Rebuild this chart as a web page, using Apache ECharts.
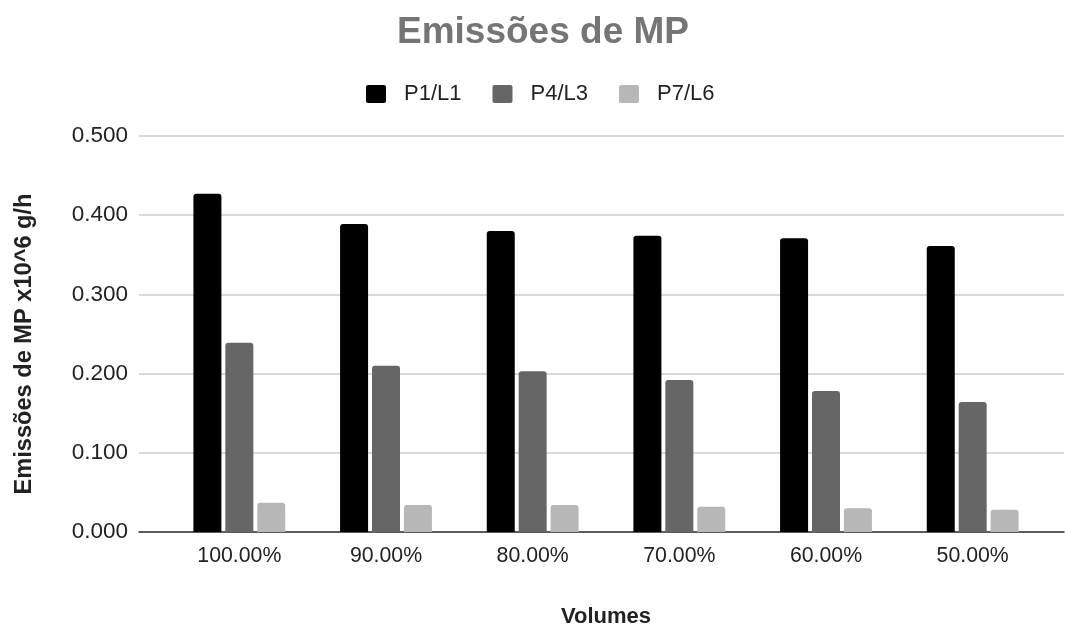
<!DOCTYPE html>
<html>
<head>
<meta charset="utf-8">
<script src="https://cdn.jsdelivr.net/npm/echarts@6/dist/echarts.min.js"></script>
<style>html,body{margin:0;padding:0;background:#fff}#c{width:1065px;height:625px}</style>
</head>
<body>
<div id="c"></div>
<script>
const categories = ['100.00%', '90.00%', '80.00%', '70.00%', '60.00%', '50.00%'];
const seriesNames = ['P1/L1', 'P4/L3', 'P7/L6'];
const p1l1 = [0.427, 0.389, 0.380, 0.374, 0.371, 0.361];
const p4l3 = [0.239, 0.210, 0.203, 0.192, 0.178, 0.164];
const p7l6 = [0.037, 0.034, 0.034, 0.032, 0.030, 0.028];
const colors = ['#000000', '#666666', '#b7b7b7'];
const yMin = 0, yMax = 0.5, yStep = 0.1;

const font = 'Liberation Sans, Arial, sans-serif';
const chart = echarts.init(document.getElementById('c'));
const values = [p1l1, p4l3, p7l6];
chart.setOption({
  animation: false,
  textStyle: { fontFamily: font },
  title: {
    text: 'Emissões de MP', left: 392, top: 9,
    textStyle: { fontSize: 37, fontWeight: 'bold', color: '#757575', fontFamily: font }
  },
  legend: {
    top: 78, left: 361, itemWidth: 20, itemHeight: 18, itemGap: 31,
    icon: 'path://M2,0 L18,0 Q20,0 20,2 L20,16 Q20,18 18,18 L2,18 Q0,18 0,16 L0,2 Q0,0 2,0 Z',
    textStyle: { fontSize: 22, color: '#222', padding: [0, 0, 0, 13], fontFamily: font },
    data: seriesNames
  },
  grid: [
    { left: 139, right: 1, top: 136, bottom: 93, outerBoundsMode: 'none' },
    { left: 166, right: 19, top: 136, bottom: 93, outerBoundsMode: 'none' }
  ],
  xAxis: [
    { gridIndex: 0, type: 'value', min: 0, max: 1, axisLabel: { show: false }, axisTick: { show: false },
      splitLine: { show: false }, axisLine: { lineStyle: { color: '#333', width: 1.5 } } },
    { gridIndex: 1, type: 'category', data: categories,
      axisLine: { show: false }, axisTick: { show: false },
      axisLabel: { fontSize: 21.3, color: '#222', margin: 14, fontFamily: font },
      name: 'Volumes', nameLocation: 'middle', nameGap: 74,
      nameTextStyle: { fontSize: 22, fontWeight: 'bold', color: '#222', fontFamily: font } }
  ],
  yAxis: [
    { gridIndex: 0, type: 'value', min: yMin, max: yMax, interval: yStep,
      axisLine: { show: false }, axisTick: { show: false },
      axisLabel: { fontSize: 22.5, color: '#222', margin: 11, formatter: v => v.toFixed(3), fontFamily: font },
      splitLine: { lineStyle: { color: '#cccccc', width: 1.5 } },
      name: 'Emissões de MP x10^6 g/h', nameLocation: 'middle', nameGap: 103, nameRotate: 90,
      nameTextStyle: { fontSize: 23.6, fontWeight: 'bold', color: '#222', padding: [0, 20, 0, 0], fontFamily: font } },
    { gridIndex: 1, type: 'value', min: yMin, max: yMax, interval: yStep, show: false, splitLine: { show: false } }
  ],
  series: seriesNames.map((n, i) => ({
    name: n, type: 'bar', xAxisIndex: 1, yAxisIndex: 1,
    data: values[i], barWidth: 28, barGap: '14%',
    itemStyle: { color: colors[i], borderRadius: [3, 3, 0, 0] }
  }))
});
</script>
</body>
</html>
